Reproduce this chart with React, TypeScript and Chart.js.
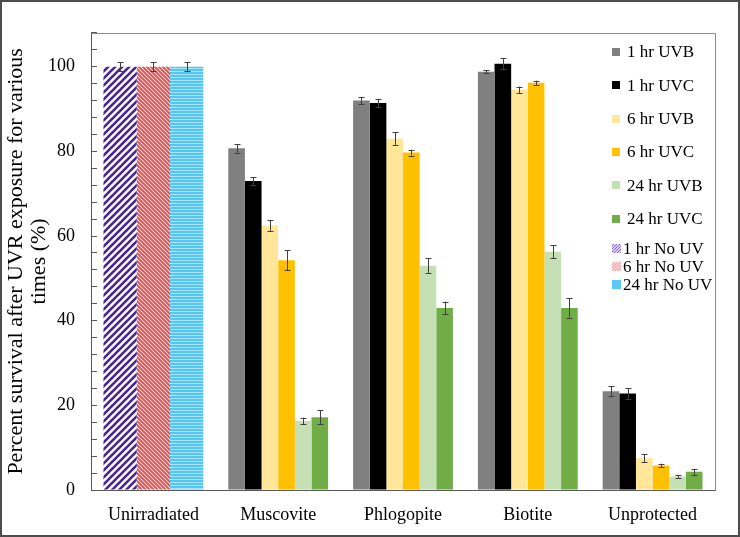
import React, { useEffect, useRef } from 'react';
import { Chart, registerables } from 'chart.js';

Chart.register(...registerables);

const FONT = "'Liberation Serif', 'Times New Roman', serif";

const categories = ['Unirradiated', 'Muscovite', 'Phlogopite', 'Biotite', 'Unprotected'];
const seriesNames = [
  '1 hr UVB', '1 hr UVC', '6 hr UVB', '6 hr UVC', '24 hr UVB', '24 hr UVC',
  '1 hr No UV', '6 hr No UV', '24 hr No UV',
];

const uvb1 = [null, 80.7, 92.0, 98.8, 23.3];
const uvc1 = [null, 73.0, 91.4, 100.7, 22.8];
const uvb6 = [null, 62.5, 83.0, 94.5, 7.5];
const uvc6 = [null, 54.3, 79.7, 96.2, 5.8];
const uvb24 = [null, 16.3, 53.0, 56.3, 3.2];
const uvc24 = [null, 17.2, 43.0, 43.0, 4.3];
const noUv1 = [100, null, null, null, null];
const noUv6 = [100, null, null, null, null];
const noUv24 = [100, null, null, null, null];

const errUvb1 = [0, 1.0, 0.8, 0.4, 1.2];
const errUvc1 = [0, 0.9, 1.0, 1.3, 1.2];
const errUvb6 = [0, 1.3, 1.5, 0.8, 0.9];
const errUvc6 = [0, 2.4, 0.7, 0.5, 0.4];
const errUvb24 = [0, 0.8, 1.8, 1.5, 0.3];
const errUvc24 = [0, 1.6, 1.5, 2.3, 0.7];
const errNoUv1 = [1.0, 0, 0, 0, 0];
const errNoUv6 = [1.0, 0, 0, 0, 0];
const errNoUv24 = [1.0, 0, 0, 0, 0];

const yTickLabels = [0, 20, 40, 60, 80, 100];
const yTitle = ['Percent survival after UVR exposure for various', 'times (%)'];

const seriesValues = [uvb1, uvc1, uvb6, uvc6, uvb24, uvc24, noUv1, noUv6, noUv24];
const seriesErrors = [errUvb1, errUvc1, errUvb6, errUvc6, errUvb24, errUvc24, errNoUv1, errNoUv6, errNoUv24];
const solidColors = ['#808080', '#000000', '#FFE699', '#FFC000', '#C5E0B4', '#70AD47'];

function makeDiagPattern(size: number, fg: string, bg: string, width: number, dir: 1 | -1): CanvasPattern {
  const c = document.createElement('canvas');
  c.width = size;
  c.height = size;
  const g = c.getContext('2d')!;
  g.fillStyle = bg;
  g.fillRect(0, 0, size, size);
  g.strokeStyle = fg;
  g.lineWidth = width;
  g.lineCap = 'square';
  g.beginPath();
  for (let k = -1; k <= 1; k++) {
    if (dir === 1) {
      g.moveTo(k * size, size);
      g.lineTo(k * size + size, 0);
    } else {
      g.moveTo(k * size, 0);
      g.lineTo(k * size + size, size);
    }
  }
  g.stroke();
  return g.createPattern(c, 'repeat')!;
}

function makeHorizPattern(fg: string, line: string): CanvasPattern {
  const c = document.createElement('canvas');
  c.width = 4;
  c.height = 3;
  const g = c.getContext('2d')!;
  g.fillStyle = fg;
  g.fillRect(0, 0, 4, 3);
  g.fillStyle = line;
  g.fillRect(0, 2, 4, 1);
  return g.createPattern(c, 'repeat')!;
}

export default function App() {
  const ref = useRef<HTMLCanvasElement | null>(null);

  useEffect(() => {
    document.body.style.margin = '0';
    const canvas = ref.current!;
    const purple = makeDiagPattern(7, '#4B2590', '#ffffff', 2.6, 1);
    const red = makeDiagPattern(4, '#EE4E4E', '#ffffff', 2.0, -1);
    const blue = makeHorizPattern('#55C6F2', '#A9E2F9');
    const purpleLegend = makeDiagPattern(3, '#8C6AD8', '#D9CDF4', 1, 1);
    const redLegend = makeDiagPattern(3, '#F3A0A0', '#FBD3D3', 1, -1);
    const fills: any[] = [...solidColors, purple, red, blue];
    const legendFills: any[] = [...solidColors, purpleLegend, redLegend, '#5BC8F5'];

    const errorBars = {
      id: 'errorBars',
      afterDatasetsDraw(chart: any) {
        const ctx = chart.ctx;
        const yScale = chart.scales.y;
        ctx.save();
        ctx.strokeStyle = '#404040';
        ctx.lineWidth = 1;
        chart.data.datasets.forEach((ds: any, di: number) => {
          const meta = chart.getDatasetMeta(di);
          ds.data.forEach((v: number | null, i: number) => {
            const e = seriesErrors[di][i];
            if (v == null || !e) return;
            const bar = meta.data[i];
            if (!bar) return;
            const x = Math.round(bar.x) + 0.5;
            const yt = yScale.getPixelForValue(v + e);
            const yb = yScale.getPixelForValue(v - e);
            ctx.beginPath();
            ctx.moveTo(x, yt);
            ctx.lineTo(x, yb);
            ctx.moveTo(x - 3, Math.round(yt) + 0.5);
            ctx.lineTo(x + 3, Math.round(yt) + 0.5);
            ctx.moveTo(x - 3, Math.round(yb) + 0.5);
            ctx.lineTo(x + 3, Math.round(yb) + 0.5);
            ctx.stroke();
          });
        });
        ctx.restore();
      },
    };

    const frame = {
      id: 'frame',
      afterDraw(chart: any) {
        const ctx = chart.ctx;
        const ca = chart.chartArea;
        ctx.save();
        ctx.strokeStyle = '#8C8C8C';
        ctx.lineWidth = 1;
        ctx.beginPath();
        ctx.moveTo(Math.round(ca.left) + 0.5, Math.round(ca.top) + 0.5);
        ctx.lineTo(Math.round(ca.right) + 0.5, Math.round(ca.top) + 0.5);
        ctx.lineTo(Math.round(ca.right) + 0.5, Math.round(ca.bottom) + 0.5);
        ctx.stroke();
        ctx.strokeStyle = '#4D4D4D';
        ctx.lineWidth = 2;
        ctx.strokeRect(1, 1, chart.width - 2, chart.height - 2);

        // legend
        const x0 = ca.right - 103;
        const rowsY = (i: number) => (i < 6 ? ca.top + 19 + i * 33.4 : ca.top + 216 + (i - 6) * 18);
        ctx.font = `17px ${FONT}`;
        ctx.textBaseline = 'middle';
        ctx.textAlign = 'left';
        seriesNames.forEach((name, i) => {
          const y = rowsY(i);
          const s = i < 6 ? 8 : 9;
          ctx.fillStyle = legendFills[i];
          ctx.fillRect(x0, Math.round(y - s / 2), s, s);
          ctx.fillStyle = '#000';
          ctx.fillText(name, i < 6 ? x0 + 15 : x0 + 11, y + 1);
        });
        ctx.restore();
      },
    };

    const chart = new Chart(canvas, {
      type: 'bar',
      data: {
        labels: categories,
        datasets: seriesNames.map((name, i) => ({
          label: name,
          data: seriesValues[i] as any,
          backgroundColor: fills[i],
          borderWidth: 0,
          skipNull: true,
          categoryPercentage: 0.8,
          barPercentage: 1.0,
        })),
      },
      options: {
        animation: false,
        responsive: false,
        devicePixelRatio: 1,
        layout: { padding: { top: 29, right: 25, left: 0, bottom: 0 } },
        plugins: { legend: { display: false }, tooltip: { enabled: false } },
        scales: {
          x: {
            z: 1,
            ticks: { color: '#000', font: { family: FONT, size: 18 }, padding: 14, maxRotation: 0, autoSkip: false },
            grid: { display: false, drawTicks: false },
            border: { display: true, color: '#595959', width: 1 },
            afterFit: (s: any) => { s.height = 47; },
          },
          y: {
            z: 1,
            min: 0,
            max: 108,
            ticks: {
              stepSize: 4,
              autoSkip: false,
              padding: 22,
              color: '#000',
              font: { family: FONT, size: 18 },
              callback: (v: any) => (yTickLabels.includes(Number(v)) ? String(v) : ''),
            },
            grid: { display: true, drawOnChartArea: false, drawTicks: true, tickLength: -6, color: '#595959', lineWidth: 1 },
            border: { display: true, color: '#595959', width: 1 },
            title: {
              display: true,
              text: yTitle,
              color: '#000',
              font: { family: FONT, size: 22, lineHeight: 1.08 },
              padding: { top: 4, bottom: 0 },
            },
            afterFit: (s: any) => { s.width = 91; },
          },
        },
      },
      plugins: [errorBars, frame],
    } as any);

    return () => chart.destroy();
  }, []);

  return (
    <div style={{ width: 740, height: 537, position: 'relative', background: '#fff' }}>
      <canvas ref={ref} width={740} height={537} style={{ display: 'block', width: 740, height: 537 }} />
    </div>
  );
}
